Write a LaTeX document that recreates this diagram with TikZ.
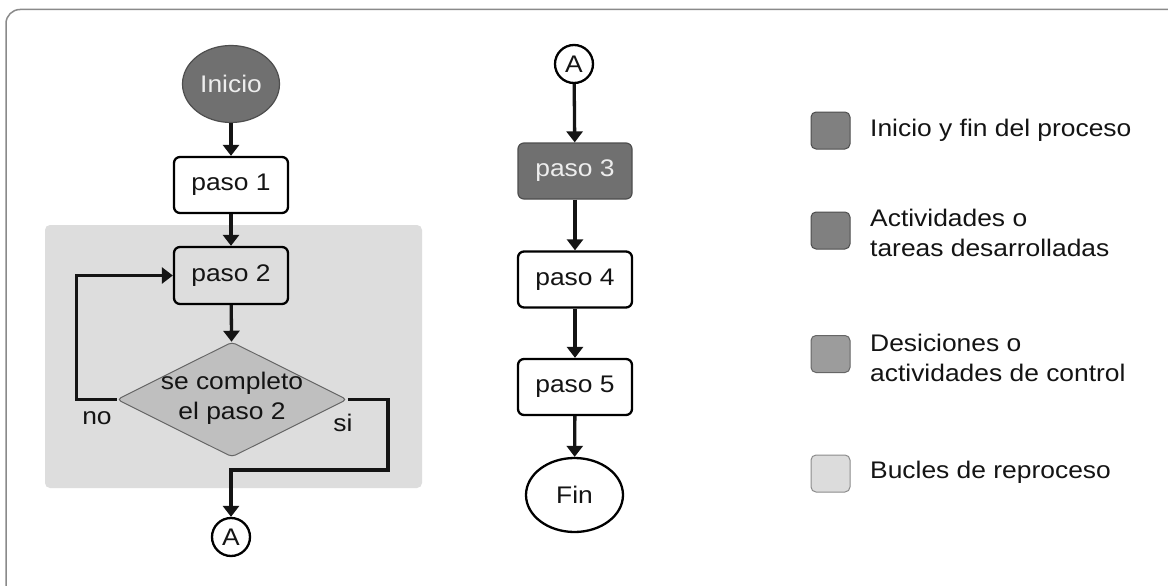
\documentclass[tikz,border=0pt]{standalone}
\usepackage{fontspec}
\setmainfont{Liberation Sans}
\newfontfamily\flowfont[FakeStretch=1.1]{Liberation Sans}
\usetikzlibrary{arrows.meta,shapes.geometric}

\definecolor{darkfill}{HTML}{707070}
\definecolor{darkline}{HTML}{4E4E4E}
\definecolor{legdark}{HTML}{808080}
\definecolor{legmid}{HTML}{9C9C9C}
\definecolor{leglight}{HTML}{DCDCDC}
\definecolor{loopbg}{HTML}{DDDDDD}
\definecolor{decfill}{HTML}{BFBFBF}
\definecolor{inkcol}{HTML}{141414}
\definecolor{framecol}{HTML}{8A8A8A}

\tikzset{
  txt/.style={font=\flowfont\fontsize{24}{30}\selectfont, text=inkcol},
  stepbox/.style={txt, draw=black, line width=2.3pt, rounded corners=6pt,
    minimum width=114pt, minimum height=56pt, inner sep=0pt, fill=white},
  darkbox/.style={stepbox, fill=darkfill, draw=darkline, line width=1.2pt, text=white!93!black},
  terminal/.style={txt, ellipse, draw=black, line width=2.3pt, inner sep=0pt, fill=white},
  connector/.style={txt, circle, draw=black, line width=2.3pt, minimum size=38pt, inner sep=0pt, fill=white},
  decision/.style={diamond, draw=black!60, line width=1pt, fill=decfill,
    minimum width=230pt, minimum height=115pt, inner sep=0pt, rounded corners=4pt},
  flow/.style={line width=3.3pt, draw=black!92, -{Triangle[width=16pt,length=11pt]}},
  legsq/.style={rounded corners=5pt, minimum width=39pt, minimum height=37pt, inner sep=0pt, line width=1pt},
  legtxt/.style={txt, anchor=west, align=left, inner sep=0pt},
}

\begin{document}
\begin{tikzpicture}[x=1pt,y=-1pt]
  \clip (0,0) rectangle (1168,586);
  \fill[white] (0,0) rectangle (1168,586);
  % outer frame (runs off the right and bottom edges)
  \draw[framecol, line width=1.5pt, rounded corners=14pt] (6,9.5) rectangle (1200,620);

  % reprocessing loop background
  \fill[loopbg, rounded corners=5pt] (45,225) rectangle (422,488);

  % left column
  \node[terminal, fill=darkfill, draw=darkline, line width=1.2pt, text=white!93!black,
        minimum width=97pt, minimum height=77pt] (ini) at (231,84) {Inicio};
  \node[stepbox] (p1) at (231,185) {paso 1};
  \node[stepbox, fill=loopbg, minimum height=57pt] (p2) at (231,275.5) {paso 2};
  \node[decision] (dec) at (232,399.5) {};
  \node[txt, align=center, inner sep=0pt] (dectxt) at (232,398) {se completo\\el paso 2};
  \node[connector] (A1) at (231,537) {A};
  \coordinate (sj) at (388,470);

  \draw[flow] (ini) -- (p1);
  \draw[flow] (p1) -- (p2);
  \draw[flow] (p2) -- (dec);
  \draw[flow] (dec.west) -- ++(-40,0) |- (p2.west);
  \draw[flow] (dec.east) -| (sj) -| (A1.north);

  \node[txt, inner sep=0pt] (lno) at (97,418) {no};
  \node[txt, inner sep=0pt] (lsi) at (343,423) {si};

  % middle column
  \node[connector] (A2) at (574,64) {A};
  \node[darkbox] (p3) at (575,171) {paso 3};
  \node[stepbox] (p4) at (575,279.5) {paso 4};
  \node[stepbox] (p5) at (575,387) {paso 5};
  \node[terminal, minimum width=97pt, minimum height=74pt] (fin) at (574.5,495) {Fin};

  \draw[flow] (A2) -- (p3);
  \draw[flow] (p3) -- (p4);
  \draw[flow] (p4) -- (p5);
  \draw[flow] (p5) -- (fin);

  % legend
  \node[legsq, fill=legdark, draw=darkline] (k1) at (830.5,130.5) {};
  \node[legsq, fill=legdark, draw=darkline] (k2) at (830.5,230.5) {};
  \node[legsq, fill=legmid, draw=black!60] (k3) at (830.5,354) {};
  \node[legsq, fill=leglight, draw=black!45] (k4) at (830.5,473.5) {};

  \node[legtxt] (t1) at (870,130) {Inicio y fin del proceso};
  \node[legtxt] (t2) at (870,233) {Actividades o\\tareas desarrolladas};
  \node[legtxt] (t3) at (870,357.5) {Desiciones o\\actividades de control};
  \node[legtxt] (t4) at (870,472) {Bucles de reproceso};
\end{tikzpicture}
\end{document}
